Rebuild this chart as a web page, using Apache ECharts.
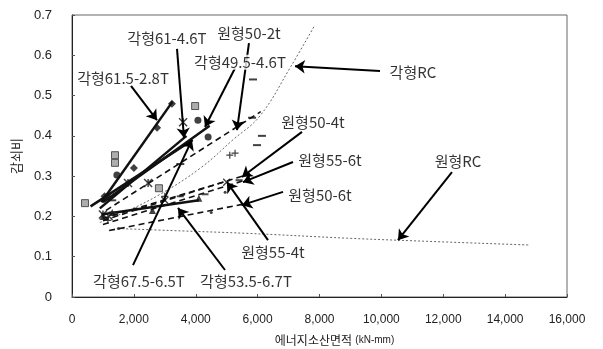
<!DOCTYPE html>
<html>
<head>
<meta charset="utf-8">
<script src="https://cdn.jsdelivr.net/npm/echarts@6/dist/echarts.min.js"></script>
<style>
  html, body { margin: 0; padding: 0; background: #fff; }
  #chart { width: 603px; height: 349px; }
</style>
</head>
<body>
<div id="chart"></div>
<script>
// ---- measured damping ratio vs. dissipated energy ----
// 각형 (square) specimens
const sq615_28 = [[1050, 0.25], [2000, 0.32], [2750, 0.42], [3230, 0.48]];
const sq615_28Trend = [[950, 0.235], [3250, 0.485]];
const sq61_46 = [[1000, 0.205], [1810, 0.283], [2460, 0.283], [3590, 0.434]];
const sq61_46Trend = [[900, 0.22], [3700, 0.40]];
const sq495_46 = [[1130, 0.248], [1450, 0.303], [4070, 0.439], [4400, 0.397]];
const sq495_46Trend = [[1000, 0.235], [4450, 0.425]];
const sq675_65 = [[420, 0.233], [1390, 0.352], [1390, 0.333], [2810, 0.27], [3980, 0.474]];
const sq675_65Trend = [[600, 0.225], [3900, 0.39]];
const sq535_67 = [[1000, 0.20], [1300, 0.21], [2600, 0.215], [4100, 0.245]];
const sq535_67Trend = [[950, 0.205], [4100, 0.24]];

// 원형 (circular) specimens
const c50_2 = [[1300, 0.24], [3500, 0.33], [5820, 0.445], [5850, 0.54], [6140, 0.40], [5980, 0.377]];
const c50_2Trend = [[1100, 0.215], [6100, 0.46]];
const c50_4 = [[1160, 0.19], [3000, 0.25], [5100, 0.352], [5270, 0.357]];
const c50_4Trend = [[1000, 0.19], [5500, 0.30]];
const c55_6 = [[1300, 0.21], [3500, 0.25], [4300, 0.255], [5400, 0.29]];
const c55_6Trend = [[1000, 0.18], [5600, 0.29]];
const c50_6 = [[1500, 0.17], [4500, 0.21], [4950, 0.26], [5500, 0.23]];
const c50_6Trend = [[1200, 0.165], [5500, 0.23]];
const c55_4 = [[1200, 0.2], [3000, 0.24], [5000, 0.285]];
const c55_4Trend = [[1000, 0.195], [5100, 0.29]];

// reference RC specimens (fitted curves)
const rcSquare = [[900, 0.185], [1550, 0.205], [2850, 0.255], [4150, 0.32], [5200, 0.39], [6080, 0.45], [7080, 0.573], [7850, 0.675]];
const rcCircle = [[1500, 0.17], [3200, 0.165], [5650, 0.158], [8900, 0.146], [10500, 0.141], [14800, 0.129]];

// callouts: text, text position, arrow start, arrow tip (data units)
const notes = [
  ['각형61.5-2.8T', 1650, 0.544, 1907, 0.524, 2747, 0.439],
  ['각형61-4.6T', 3070, 0.643, 3394, 0.616, 3620, 0.395],
  ['원형50-2t', 5720, 0.655, 5720, 0.630, 5333, 0.414],
  ['각형49.5-4.6T', 5430, 0.583, 5268, 0.568, 4299, 0.422],
  ['각형RC', 11020, 0.558, 9955, 0.561, 7207, 0.573],
  ['원형50-4t', 7790, 0.434, 7434, 0.41, 5494, 0.298],
  ['원형55-6t', 8340, 0.340, 7143, 0.335, 5527, 0.285],
  ['원형50-6t', 8016, 0.253, 6820, 0.261, 5494, 0.228],
  ['원형55-4t', 6496, 0.112, 6335, 0.141, 5010, 0.285],
  ['원형RC', 12476, 0.338, 12282, 0.310, 10536, 0.141],
  ['각형67.5-6.5T', 2165, 0.04, 1972, 0.079, 3878, 0.39],
  ['각형53.5-6.7T', 5624, 0.04, 4945, 0.067, 3426, 0.221]
];

const xMin = 0, xMax = 16000, xStep = 2000;
const yMin = 0, yMax = 0.7, yStep = 0.1;

const KR = '"Noto Sans CJK KR", "Noto Sans", sans-serif';
const LAT = '"Liberation Sans", Arial, sans-serif';

const crossPath = 'path://M0,0L10,10M10,0L0,10';
const starPath = 'path://M0,0L10,10M10,0L0,10M5,0L5,10';
const plusPath = 'path://M5,0L5,10M0,5L10,5';

function trend(data, dashed, width) {
  return {
    type: 'line', data: data, symbol: 'none', silent: true, z: 3,
    lineStyle: { color: '#111', width: width, type: dashed ? [6, 4] : 'solid' }
  };
}
function dotted(data) {
  return {
    type: 'line', data: data, symbol: 'none', smooth: 0.4, silent: true, z: 2,
    lineStyle: { color: '#666', width: 1, type: [2, 2] }
  };
}
function marks(data, symbol, size, fill, stroke, bw) {
  return {
    type: 'scatter', data: data, symbol: symbol, symbolSize: size, z: 4,
    itemStyle: { color: fill, borderColor: stroke, borderWidth: bw }
  };
}

const series = [
  dotted(rcSquare),
  dotted(rcCircle),
  trend(sq615_28Trend, false, 2.5),
  trend(sq61_46Trend, false, 2.5),
  trend(sq495_46Trend, false, 2.5),
  trend(sq675_65Trend, false, 2.5),
  trend(sq535_67Trend, false, 2.5),
  trend(c50_2Trend, true, 1.6),
  trend(c50_4Trend, true, 1.6),
  trend(c55_6Trend, true, 1.6),
  trend(c50_6Trend, true, 1.6),
  trend(c55_4Trend, true, 1.6),
  marks(sq615_28, 'diamond', 8, '#111', '#111', 0),
  marks(sq61_46, starPath, 8, 'none', '#111', 1.5),
  marks(sq495_46, 'circle', 7, '#111', '#111', 0),
  marks(sq675_65, 'rect', 7, '#999', '#333', 1),
  marks(sq535_67, 'triangle', 7, '#111', '#111', 0),
  marks(c50_2, 'rect', [8, 2], '#111', '#111', 0),
  marks(c50_4, plusPath, 7, 'none', '#111', 1.2),
  marks(c55_6, 'rect', [7, 2], '#222', '#222', 0),
  marks(c50_6, 'circle', 3, '#111', '#111', 0),
  marks(c55_4, crossPath, 7, 'none', '#111', 1.3),
  // callout arrows
  {
    type: 'line', data: [], silent: true, z: 6,
    markLine: {
      silent: true, animation: false,
      symbol: ['none', 'arrow'], symbolSize: 10,
      lineStyle: { color: '#000', width: 2, type: 'solid' },
      label: { show: false },
      data: notes.map(n => [{ coord: [n[3], n[4]] }, { coord: [n[5], n[6]] }])
    }
  },
  // callout texts
  {
    type: 'scatter', silent: true, z: 7, symbolSize: 1,
    itemStyle: { color: 'rgba(0,0,0,0)' },
    data: notes.map(n => [n[1], n[2], n[0]]),
    label: {
      show: true, position: 'inside', color: '#000',
      fontFamily: KR, fontSize: 15,
      backgroundColor: '#fff', padding: [0, 1],
      formatter: p => p.value[2]
    }
  }
];

const chart = echarts.init(document.getElementById('chart'), null, { renderer: 'canvas' });
chart.setOption({
  animation: false,
  backgroundColor: '#fff',
  grid: {
    left: 72, top: 15, width: 495, height: 282,
    outerBoundsMode: 'none', containLabel: false,
    show: true, borderColor: '#666', borderWidth: 1
  },
  xAxis: {
    type: 'value', min: xMin, max: xMax, interval: xStep,
    axisLine: { show: true, lineStyle: { color: '#222', width: 1 } },
    axisTick: { show: true, inside: true, length: 3, lineStyle: { color: '#555' } },
    splitLine: { show: false },
    axisLabel: {
      margin: 17, color: '#222', fontFamily: LAT, fontSize: 12,
      formatter: v => v.toLocaleString('en-US')
    },
    name: '{a|에너지소산면적} {b|(kN-mm)}',
    nameLocation: 'middle', nameGap: 37,
    nameTextStyle: {
      padding: [0, 0, 0, 30],
      rich: {
        a: { fontFamily: KR, fontSize: 12, color: '#222' },
        b: { fontFamily: LAT, fontSize: 10, color: '#222' }
      }
    }
  },
  yAxis: {
    type: 'value', min: yMin, max: yMax, interval: yStep,
    axisLine: { show: true, lineStyle: { color: '#222', width: 1 } },
    axisTick: { show: true, inside: true, length: 3, lineStyle: { color: '#555' } },
    splitLine: { show: false },
    axisLabel: {
      margin: 20, color: '#222', fontFamily: LAT, fontSize: 13,
      formatter: v => (v === 0 ? '0' : v.toFixed(1))
    },
    name: '감쇠비', nameLocation: 'middle', nameGap: 45, nameRotate: 90,
    nameTextStyle: { fontFamily: KR, fontSize: 13, color: '#222' }
  },
  series: series
});
</script>
</body>
</html>
